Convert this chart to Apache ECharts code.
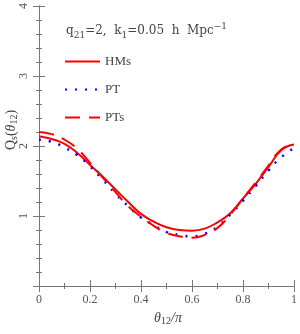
<!DOCTYPE html>
<html><head><meta charset="utf-8">
<script src="https://cdn.jsdelivr.net/npm/echarts@6/dist/echarts.min.js"></script>
<style>html,body{margin:0;padding:0;background:#fff}#c{width:300px;height:334px}</style>
</head><body><div id="c"></div>
<script>
// theta_12 / pi
const theta = [0,0.05,0.1,0.15,0.2,0.25,0.3,0.35,0.4,0.45,0.5,0.55,0.6,0.65,0.7,0.75,0.8,0.85,0.9,0.95,1.0];
const hms = [2.14,2.10,2.03,1.90,1.73,1.56,1.38,1.20,1.03,0.92,0.84,0.80,0.79,0.82,0.91,1.04,1.25,1.46,1.70,1.94,2.02];
const pt  = [2.09,2.06,1.98,1.87,1.71,1.52,1.32,1.14,0.98,0.87,0.77,0.73,0.71,0.745,0.85,1.02,1.22,1.43,1.65,1.84,1.97];
const pts = [2.20,2.17,2.09,1.96,1.76,1.55,1.34,1.14,0.99,0.86,0.76,0.71,0.69,0.73,0.83,1.02,1.25,1.48,1.72,1.95,2.03];
const seriesNames = ['HMs','PT','PTs'];
const yTickLabels = ['','1','2','3','4'];

const serif = '"Liberation Serif", "DejaVu Serif", serif';
const axisCol = '#777';
const textCol = '#555';
const pairs = arr => theta.map((t,i)=>[t,arr[i]]);

const chart = echarts.init(document.getElementById('c'), null, {renderer:'canvas'});
const aLine = {show:true,lineStyle:{color:axisCol,width:1}};
const aTick = {show:true,inside:true,length:6,lineStyle:{color:axisCol}};
chart.setOption({
  animation:false,
  grid:{left:39,right:4,top:4,bottom:48},
  xAxis:[
    {type:'value',min:0,max:1,interval:0.2,position:'bottom',
      axisLine:aLine,axisTick:aTick,splitLine:{show:false},
      minorTick:{show:true,splitNumber:2,length:3,lineStyle:{color:axisCol}},
      axisLabel:{color:textCol,fontFamily:serif,fontSize:12,margin:8}},
    {type:'value',min:0,max:1,interval:0.2,position:'top',
      axisLine:aLine,axisTick:aTick,
      minorTick:{show:true,splitNumber:2,length:3,lineStyle:{color:axisCol}},
      axisLabel:{show:false},splitLine:{show:false}}
  ],
  yAxis:[
    {type:'value',min:0,max:4,interval:1,position:'left',
      axisLine:aLine,axisTick:aTick,
      minorTick:{show:true,splitNumber:5,length:3,lineStyle:{color:axisCol}},
      axisLabel:{color:textCol,fontFamily:serif,fontSize:12,rotate:90,margin:15,
        align:'center',verticalAlign:'middle',
        formatter:v=>yTickLabels[Math.round(v)]},
      splitLine:{show:false}},
    {type:'value',min:0,max:4,interval:1,position:'right',
      axisLine:aLine,axisTick:aTick,
      minorTick:{show:true,splitNumber:5,length:3,lineStyle:{color:axisCol}},
      axisLabel:{show:false},splitLine:{show:false}}
  ],
  legend:{
    orient:'vertical',left:64,top:55,padding:0,itemWidth:35,itemHeight:14,itemGap:15,
    data:seriesNames,
    itemStyle:{opacity:0},
    textStyle:{fontFamily:serif,fontSize:13,color:'#444'}
  },
  graphic:[
    {type:'text',left:66,top:22,style:{
      text:'{t|q}{s|21}{t|=2,  k}{s|1}{t|=0.05  h  Mpc}{p|−1}',
      rich:{
        t:{fontFamily:'"DejaVu Serif", serif',fontSize:12,fill:'#444',verticalAlign:'bottom'},
        s:{fontFamily:'"DejaVu Serif", serif',fontSize:9,fill:'#444',verticalAlign:'bottom',padding:[0,0,-3,0]},
        p:{fontFamily:'"DejaVu Serif", serif',fontSize:9,fill:'#444',verticalAlign:'top',padding:[0,0,6,0]}
      }}},
    {type:'text',x:11,y:130,rotation:Math.PI/2,style:{
      text:'{t|Q}{s|s}{t|(}{i|θ}{s|12}{t|)}',align:'center',verticalAlign:'middle',
      rich:{
        t:{fontFamily:serif,fontSize:14,fill:'#444'},
        i:{fontFamily:serif,fontSize:14,fontStyle:'italic',fill:'#444'},
        s:{fontFamily:serif,fontSize:10,fill:'#444',padding:[7,0,0,0]}
      }}},
    {type:'text',x:168,y:318,style:{
      text:'{i|θ}{s|12}{t|/π}',align:'center',verticalAlign:'middle',
      rich:{
        t:{fontFamily:serif,fontSize:14,fontStyle:'italic',fill:'#444'},
        i:{fontFamily:serif,fontSize:14,fontStyle:'italic',fill:'#444'},
        s:{fontFamily:serif,fontSize:10,fill:'#444',padding:[7,0,0,0]}
      }}}
  ],
  series:[
    {name:'HMs',type:'line',data:pairs(hms),smooth:true,symbol:'none',
      lineStyle:{color:'#ff0000',width:2,type:'solid'},itemStyle:{color:'#ff0000'}},
    {name:'PT',type:'line',data:pairs(pt),smooth:true,symbol:'none',
      lineStyle:{color:'#0000ff',width:2.5,type:[2,8]},itemStyle:{color:'#0000ff'}},
    {name:'PTs',type:'line',data:pairs(pts),smooth:true,symbol:'none',
      lineStyle:{color:'#ff0000',width:2,type:[15,9]},itemStyle:{color:'#ff0000'}}
  ]
});
</script></body></html>
